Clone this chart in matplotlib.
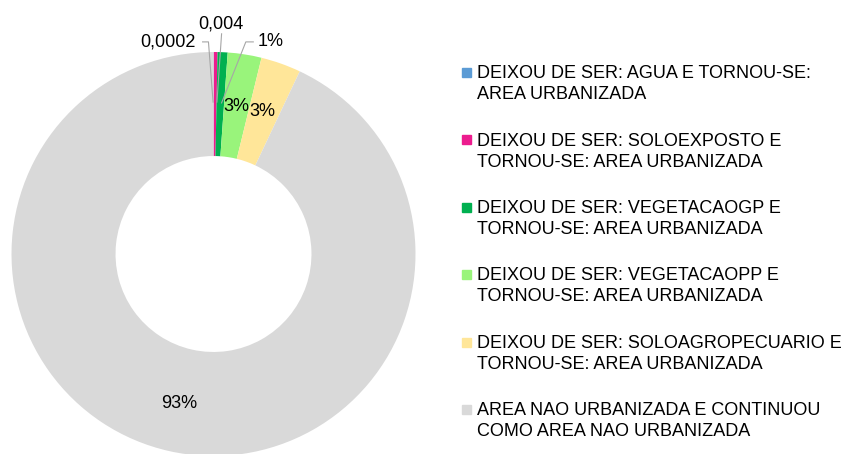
import matplotlib.pyplot as plt
from matplotlib.patches import Rectangle

plt.rcParams["font.family"] = ["Liberation Sans", "DejaVu Sans"]

categorias = [
    "DEIXOU DE SER: AGUA E TORNOU-SE:\nAREA URBANIZADA",
    "DEIXOU DE SER: SOLOEXPOSTO E\nTORNOU-SE: AREA URBANIZADA",
    "DEIXOU DE SER: VEGETACAOGP E\nTORNOU-SE: AREA URBANIZADA",
    "DEIXOU DE SER: VEGETACAOPP E\nTORNOU-SE: AREA URBANIZADA",
    "DEIXOU DE SER: SOLOAGROPECUARIO E\nTORNOU-SE: AREA URBANIZADA",
    "AREA NAO URBANIZADA E CONTINUOU\nCOMO AREA NAO URBANIZADA",
]
valores = [0.0002, 0.003, 0.008, 0.027, 0.032, 0.9298]
rotulos = ["0,0002", "0,004", "1%", "3%", "3%", "93%"]
cores = ["#5B9BD5", "#EC1C8E", "#00B050", "#99F47B", "#FFE699", "#D9D9D9"]

W, H = 846, 454
cx, cy, r = 213.5, 254, 202

fig = plt.figure(figsize=(W / 100, H / 100), dpi=100)
ax = fig.add_axes([(cx - r) / W, (H - cy - r) / H, 2 * r / W, 2 * r / H])

wedges, _ = ax.pie(valores, colors=cores, startangle=90, counterclock=False,
                   radius=1.0, wedgeprops=dict(width=0.515, edgecolor="none"))
ax.set_xlim(-1, 1)
ax.set_ylim(-1, 1)
ax.set_aspect("equal")
ax.set_clip_on(False)

# rotulos internos
ax.text(0.115, 0.73, rotulos[3], ha="center", va="center", fontsize=13)
ax.text(0.24, 0.705, rotulos[4], ha="center", va="center", fontsize=13)
ax.text(-0.17, -0.74, rotulos[5], ha="center", va="center", fontsize=13)

# rotulos externos com linhas de chamada
cor_linha = "#A6A6A6"
ax.text(-0.228, 1.05, rotulos[0], ha="center", va="center", fontsize=13)
ax.plot([-0.054, -0.025, -0.002], [1.05, 1.05, 0.752], color=cor_linha, lw=0.8,
        clip_on=False)
ax.text(0.035, 1.14, rotulos[1], ha="center", va="center", fontsize=13)
ax.plot([0.04, 0.017], [1.09, 0.752], color=cor_linha, lw=0.8, clip_on=False)
ax.text(0.285, 1.05, rotulos[2], ha="center", va="center", fontsize=13)
ax.plot([0.197, 0.16, 0.04], [1.05, 1.05, 0.748], color=cor_linha, lw=0.8,
        clip_on=False)

# legenda
for i, (cat, cor) in enumerate(zip(categorias, cores)):
    yc = 72 + i * 67.4
    fig.patches.append(Rectangle((462 / W, 1 - (yc + 5) / H), 9 / W, 9 / H,
                                 transform=fig.transFigure, color=cor, figure=fig))
    for j, linha in enumerate(cat.split("\n")):
        base = yc + 6.2 + j * 21
        fig.text(477 / W, 1 - base / H, linha, ha="left", va="baseline",
                 fontsize=13)

plt.savefig("out.png", dpi=100)
